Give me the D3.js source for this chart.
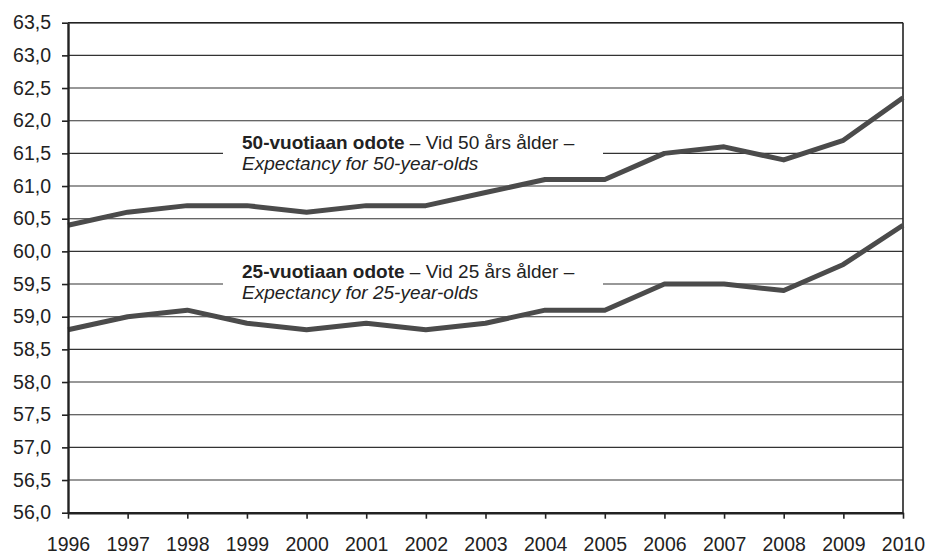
<!DOCTYPE html>
<html>
<head>
<meta charset="utf-8">
<script src="https://cdn.jsdelivr.net/npm/d3@7"></script>
<style>
  body { margin: 0; background: #fff; }
  svg { display: block; font-family: "Liberation Sans", Arial, sans-serif; }
  .axis text { fill: #222; font-size: 19.5px; }
  .axis path, .axis line { stroke: #222; }
</style>
</head>
<body>
<div class="container"></div>
<script>
const years = [1996, 1997, 1998, 1999, 2000, 2001, 2002, 2003, 2004, 2005, 2006, 2007, 2008, 2009, 2010];
const age50 = [60.4, 60.6, 60.7, 60.7, 60.6, 60.7, 60.7, 60.9, 61.1, 61.1, 61.5, 61.6, 61.4, 61.7, 62.35];
const age25 = [58.8, 59.0, 59.1, 58.9, 58.8, 58.9, 58.8, 58.9, 59.1, 59.1, 59.5, 59.5, 59.4, 59.8, 60.4];
const yTicks = [56, 56.5, 57, 57.5, 58, 58.5, 59, 59.5, 60, 60.5, 61, 61.5, 62, 62.5, 63, 63.5];
const label50 = ["50-vuotiaan odote", " – Vid 50 års ålder –", "Expectancy for 50-year-olds"];
const label25 = ["25-vuotiaan odote", " – Vid 25 års ålder –", "Expectancy for 25-year-olds"];

const width = 928, height = 554;
const margin = { top: 22.7, right: 25, bottom: 41.3, left: 68 };

const svg = d3.select(".container")
  .append("svg")
  .attr("width", width)
  .attr("height", height);

const x = d3.scaleLinear()
  .domain([years[0], years[years.length - 1]])
  .range([margin.left, width - margin.right]);

const y = d3.scaleLinear()
  .domain([56, 63.5])
  .range([height - margin.bottom, margin.top]);

const fmt = d => d3.format(".1f")(d).replace(".", ",");

// gridlines
svg.append("g")
  .selectAll("line")
  .data(yTicks)
  .enter()
  .append("line")
  .attr("x1", margin.left)
  .attr("x2", width - margin.right)
  .attr("y1", d => y(d))
  .attr("y2", d => y(d))
  .attr("stroke", "#333")
  .attr("stroke-width", 1.1);

// right and top frame
svg.append("line")
  .attr("x1", width - margin.right)
  .attr("x2", width - margin.right)
  .attr("y1", margin.top)
  .attr("y2", height - margin.bottom)
  .attr("stroke", "#222")
  .attr("stroke-width", 1.6);

svg.append("line")
  .attr("x1", margin.left)
  .attr("x2", width - margin.right)
  .attr("y1", margin.top)
  .attr("y2", margin.top)
  .attr("stroke", "#222")
  .attr("stroke-width", 1.6);

// label boxes hide the gridline behind text
function addLabel(lines, bx, by) {
  svg.append("rect")
    .attr("x", bx - 19)
    .attr("y", by - 19)
    .attr("width", 380)
    .attr("height", 46)
    .attr("fill", "#fff");
  const t = svg.append("text")
    .attr("x", bx)
    .attr("y", by)
    .attr("fill", "#222")
    .style("font-size", "19px");
  t.append("tspan").attr("font-weight", "bold").text(lines[0]);
  t.append("tspan").text(lines[1]);
  svg.append("text")
    .attr("x", bx)
    .attr("y", by + 21)
    .attr("fill", "#222")
    .attr("font-style", "italic")
    .style("font-size", "19px")
    .text(lines[2]);
}
addLabel(label50, 242, 149);
addLabel(label25, 242, 278);

// series lines
const line = d3.line()
  .x((d, i) => x(years[i]))
  .y(d => y(d));

[age50, age25].forEach(s => {
  svg.append("path")
    .datum(s)
    .attr("fill", "none")
    .attr("stroke", "#4b4b4b")
    .attr("stroke-width", 5)
    .attr("stroke-linejoin", "round")
    .attr("d", line);
});

// axes
const yAxis = d3.axisLeft(y)
  .tickValues(yTicks)
  .tickFormat(fmt)
  .tickSize(6)
  .tickSizeOuter(0)
  .tickPadding(11);

const xAxis = d3.axisBottom(x)
  .tickValues(years)
  .tickFormat(d3.format("d"))
  .tickSize(6)
  .tickSizeOuter(0)
  .tickPadding(18);

const gy = svg.append("g")
  .attr("class", "axis")
  .attr("transform", `translate(${margin.left},0)`)
  .call(yAxis);
gy.select(".domain").attr("stroke-width", 2.4);
gy.selectAll(".tick line").attr("stroke-width", 1.6);

const gx = svg.append("g")
  .attr("class", "axis")
  .attr("transform", `translate(0,${height - margin.bottom})`)
  .call(xAxis);
gx.select(".domain").attr("stroke-width", 2.4);
gx.selectAll(".tick line").attr("stroke-width", 1.6);
</script>
</body>
</html>
